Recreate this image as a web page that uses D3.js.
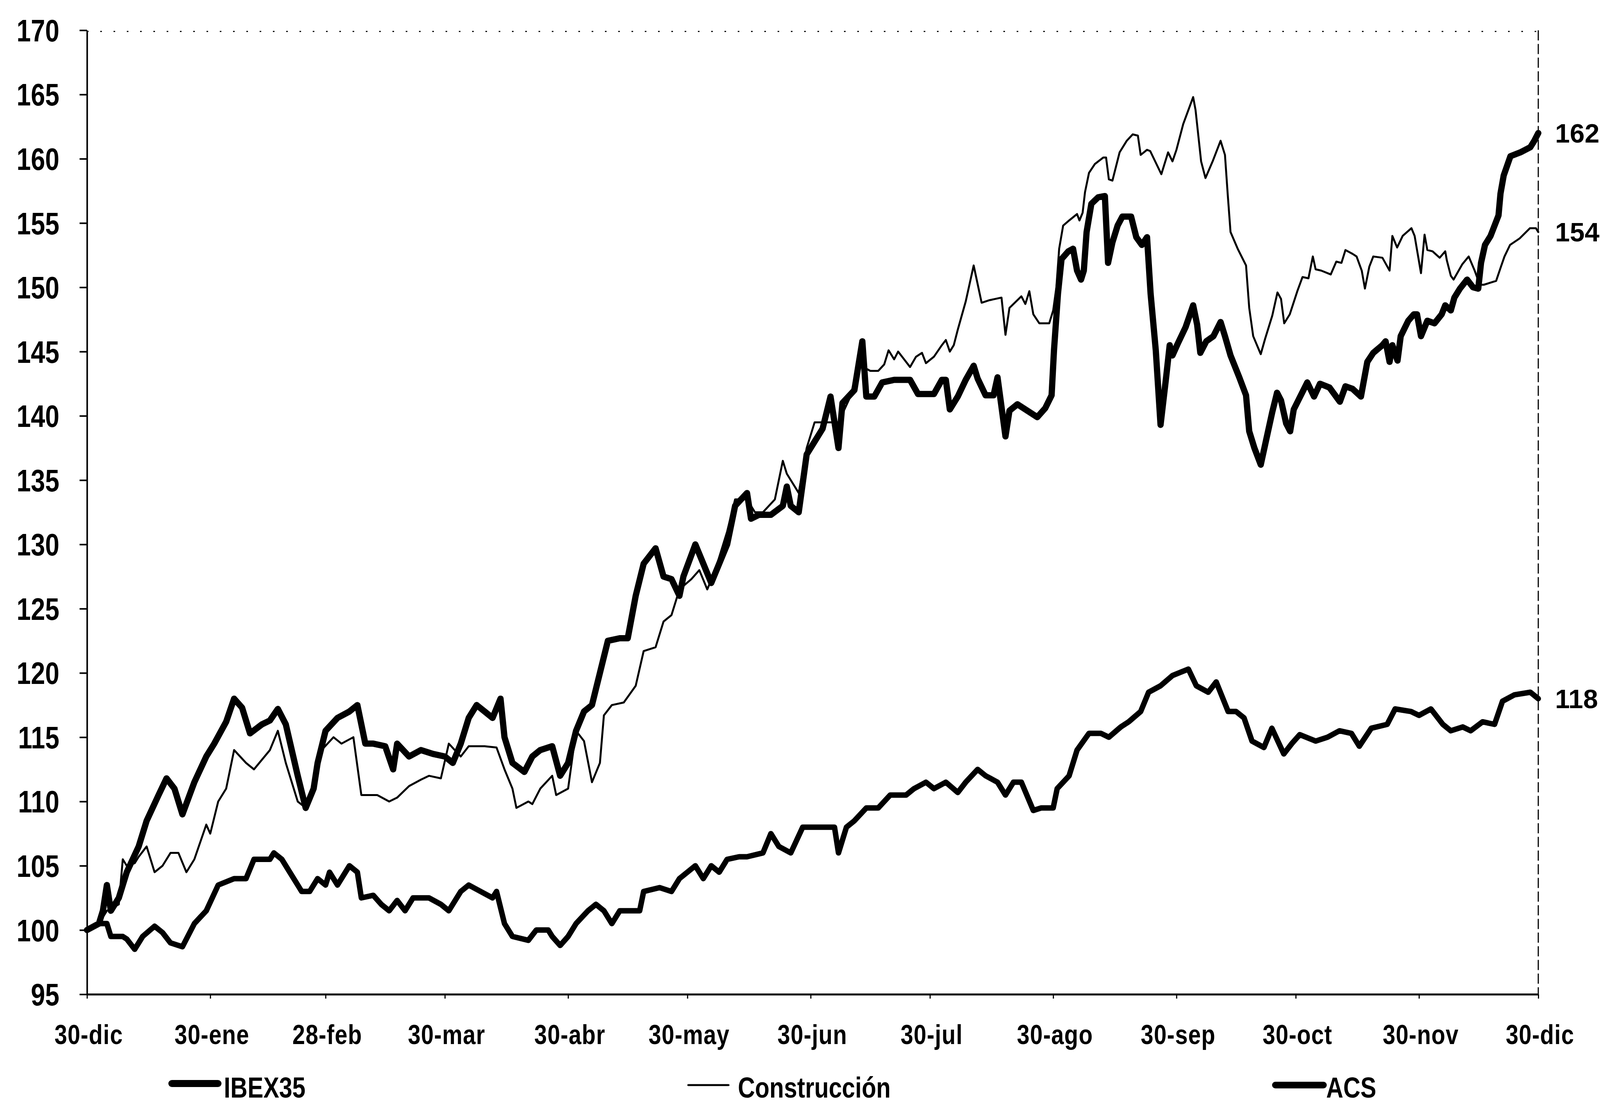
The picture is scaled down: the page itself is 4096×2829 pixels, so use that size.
<!DOCTYPE html>
<html><head><meta charset="utf-8">
<script src="https://cdn.jsdelivr.net/npm/d3@7"></script>
<style>html,body{margin:0;padding:0;background:#fff;overflow:hidden}svg{display:block}</style>
</head><body>
<svg id="chart" width="4096" height="2829"></svg>
<script>
// ---------- data ----------
const seriesNames = ["IBEX35", "Construcción", "ACS"];
const tickDates = ["2004-12-30","2005-01-30","2005-02-28","2005-03-30","2005-04-30","2005-05-30","2005-06-30","2005-07-30","2005-08-30","2005-09-30","2005-10-30","2005-11-30","2005-12-30"];
const tickLabels = ["30-dic","30-ene","28-feb","30-mar","30-abr","30-may","30-jun","30-jul","30-ago","30-sep","30-oct","30-nov","30-dic"];
const yTicks = [95,100,105,110,115,120,125,130,135,140,145,150,155,160,165,170];

// [days since 30-dic, index value]
const ibex = [[0,100],[3,100.5],[5,100.5],[6,99.5],[9,99.5],[10,99.3],[12,98.5],[14,99.5],[17,100.3],[19,99.8],
[21,99],[24,98.7],[27,100.5],[30,101.5],[33,103.5],[37,104],[40,104],[42,105.5],[46,105.5],[47,106],
[49,105.5],[51,104.5],[54,103],[56,103],[58,104],[60,103.5],[61,104.5],[63,103.5],[66,105],[68,104.5],
[69,102.5],[72,102.7],[74,102],[76,101.5],[78,102.3],[80,101.5],[82,102.5],[86,102.5],[89,102],[91,101.5],
[94,103],[96,103.5],[99,103],[102,102.5],[103,103],[105,100.5],[107,99.5],[111,99.2],[113,100],[116,100],
[117,99.5],[119,98.8],[121,99.5],[123,100.5],[126,101.5],[128,102],[130,101.5],[132,100.5],[134,101.5],[136,101.5],
[139,101.5],[140,103],[144,103.3],[147,103],[149,104],[153,105],[155,104],[157,105],[159,104.5],[161,105.5],
[164,105.7],[166,105.7],[170,106],[172,107.5],[174,106.5],[177,106],[180,108],[184,108],[188,108],[189,106],
[191,108],[193,108.5],[196,109.5],[199,109.5],[202,110.5],[206,110.5],[208,111],[211,111.5],[213,111],[216,111.5],
[219,110.7],[221,111.5],[224,112.5],[226,112],[229,111.5],[231,110.5],[233,111.5],[235,111.5],[238,109.3],[240,109.5],
[243,109.5],[244,111],[247,112],[249,114],[252,115.3],[255,115.3],[257,115],[260,115.8],[262,116.2],[265,117],
[267,118.5],[270,119],[273,119.8],[277,120.3],[279,119],[282,118.5],[284,119.3],[287,117],[289,117],[291,116.5],
[293,114.7],[296,114.2],[298,115.7],[301,113.7],[303,114.5],[305,115.2],[309,114.7],[312,115],[315,115.5],[318,115.3],
[320,114.3],[323,115.7],[327,116],[329,117.2],[333,117],[335,116.7],[338,117.2],[341,116],[343,115.5],[346,115.8],
[348,115.5],[351,116.2],[354,116],[356,117.8],[359,118.3],[363,118.5],[365,118]];

const construccion = [[0,100],[3,100.5],[5,101.5],[8,102],[9,105.5],[10,105],[12,105.2],[13,105.7],[15,106.5],[17,104.5],
[19,105],[21,106],[23,106],[25,104.5],[27,105.5],[30,108.2],[31,107.5],[33,110],[35,111],[37,114],
[40,113],[42,112.5],[46,114],[48,115.5],[50,113],[53,110],[55,109.5],[57,111],[59,114],[62,115],
[64,114.5],[67,115],[69,110.5],[73,110.5],[76,110],[78,110.3],[81,111.2],[84,111.7],[86,112],[89,111.8],
[91,114.5],[94,113.5],[96,114.3],[100,114.3],[103,114.2],[105,112.5],[107,111],[108,109.5],[111,110],[112,109.8],
[114,111],[117,112],[118,110.5],[121,111],[123,115.5],[125,114.7],[127,111.5],[129,113],[130,116.7],[132,117.5],
[135,117.7],[138,119],[140,121.7],[143,122],[145,124],[147,124.5],[149,126.5],[152,127.3],[154,128],[156,126.5],
[158,128],[161,131],[163,133.5],[166,133.5],[168,132.5],[170,132.5],[173,133.5],[175,136.5],[176,135.5],[179,134],
[181,137.5],[183,139.5],[186,139.5],[189,139.5],[192,141.5],[194,144],[197,143.5],[199,143.5],[200.5,144],[201.6,145.1],
[203,144.4],[204,145],[205,144.6],[207,143.8],[208.5,144.6],[210,144.9],[211,144.1],[213,144.6],[215,145.5],[216,145.9],
[217,145],[218,145.5],[219,146.7],[221,148.9],[222,150.3],[223,151.7],[225,148.8],[227,149],[230,149.2],[231,146.3],
[232,148.4],[235,149.3],[236,148.7],[237,149.7],[238,147.9],[239.5,147.2],[242,147.2],[243,148.2],[243.8,150],[244.5,153],
[245.5,154.8],[247,155.2],[249,155.7],[249.6,155.2],[250.4,155.8],[251,157.4],[252,158.9],[253.5,159.6],[255.6,160.1],[256.3,160.1],
[257,158.4],[257.9,158.3],[259.7,160.5],[261.5,161.4],[263,161.9],[264.3,161.8],[265,160.3],[266.6,160.7],[267.4,160.6],[270.2,158.8],
[271.9,160.5],[273,159.8],[274,160.7],[275.7,162.7],[278.2,164.8],[278.8,163.8],[280.2,159.8],[281.3,158.5],[283.1,159.8],[285.1,161.4],
[286.2,160.3],[286.9,157.2],[287.6,154.3],[289.4,153],[291.5,151.7],[292.3,148.4],[293.3,146.2],[295.2,144.8],[296.3,146],[298.1,147.8],
[299.4,149.6],[300.3,149.1],[301.1,147.2],[302.5,147.9],[304.4,149.7],[305.7,150.8],[307.2,150.7],[308.3,152.4],[309,151.4],[310.4,151.3],
[312.8,151],[314.2,152],[315.5,151.9],[316.5,152.9],[318.3,152.6],[319.3,152.4],[320.6,151.3],[321.4,149.9],[322.5,151.6],[323.5,152.4],
[325.8,152.3],[327.6,151.3],[328.3,154],[329.5,153.1],[330.9,154],[333.1,154.6],[333.9,154],[335.5,151.1],[336.4,154.1],[337.1,152.9],
[338.4,152.8],[340.2,152.3],[341.6,152.8],[342,152.1],[343,150.9],[343.7,150.6],[345.9,151.8],[347.5,152.4],[349,151.3],[350.3,150.2],
[351.3,150.2],[354.4,150.5],[355.6,151.6],[356.5,152.4],[357.9,153.3],[360.3,153.8],[362.9,154.6],[364.4,154.6],[365,154.3]];

const acs = [[0,100],[3,100.5],[4,101.5],[5,103.5],[6,101.5],[8,102.5],[10,104.5],[13,106.5],[15,108.5],[18,110.5],
[20,111.8],[22,111],[24,109],[27,111.5],[30,113.5],[32,114.5],[35,116.2],[37,118],[39,117.3],[41,115.3],
[44,116],[46,116.3],[48,117.2],[50,116],[53,112],[55,109.5],[57,111],[58,113],[60,115.5],[63,116.5],
[66,117],[68,117.5],[70,114.5],[72,114.5],[75,114.3],[77,112.5],[78,114.5],[81,113.5],[84,114],[87,113.7],
[90,113.5],[92,113],[94,114.5],[96,116.5],[98,117.5],[100,117],[102,116.5],[104,118],[105,115],[107,113],
[110,112.3],[112,113.5],[114,114],[117,114.3],[119,112],[121,113],[123,115.5],[125,117],[127,117.5],[129,120],
[131,122.5],[134,122.7],[136,122.7],[138,126],[140,128.5],[143,129.7],[145,127.5],[147,127.3],[149,126],[150,127.5],
[153,130],[155,128.5],[157,127],[159,128.5],[161,130],[163,133],[166,134],[167,132],[169,132.3],[172,132.3],
[175,133],[176,134.5],[177,133],[179,132.5],[181,137],[183,138],[185,139],[187,141.5],[189,137.5],[190,141],
[193,142],[195,145.8],[196,141.5],[198,141.5],[200,142.6],[203,142.8],[207,142.8],[209,141.7],[213,141.7],[215,142.8],
[216,142.8],[217,140.5],[219,141.5],[221,142.8],[223,143.9],[224,142.9],[226,141.6],[228,141.6],[229,143],[231,138.4],
[232,140.4],[234,140.9],[237,140.3],[239,139.9],[241,140.6],[242.6,141.6],[243.2,145.1],[244.2,149.5],[245.1,152.2],[246.8,152.8],
[248,153],[249,151.3],[250,150.6],[250.7,151.3],[251.4,154.3],[252.6,156.5],[254.3,157],[256,157.1],[256.8,151.9],[257.9,153.5],
[259.2,154.8],[260.4,155.5],[262.6,155.5],[263.9,153.9],[265.3,153.3],[266.6,153.9],[267.5,149.5],[268.8,145.1],[270,139.3],[271.4,143],
[272.3,145.5],[273,144.7],[274.3,145.6],[276.3,146.9],[278.2,148.6],[279.2,147.1],[280,144.9],[281.5,145.8],[283.3,146.2],[285.1,147.3],
[286.2,146.2],[287.6,144.7],[289.8,143],[291.5,141.6],[292.3,138.8],[293.6,137.5],[295.2,136.2],[296.4,137.9],[298.1,140.3],[299.3,141.8],
[300.3,141.2],[301.6,139.4],[302.6,138.8],[303.5,140.5],[306.9,142.6],[308.6,141.5],[310.1,142.5],[312.5,142.2],[315.1,141.1],[316.5,142.3],
[318.3,142.1],[320.4,141.5],[322,144.2],[323.5,144.9],[325.8,145.5],[326.6,145.8],[327.6,144.2],[328.3,145.5],[329.6,144.3],[330.4,146.2],
[332.3,147.4],[333.7,147.9],[334.5,147.9],[335.5,146.2],[337.1,147.4],[338.9,147.2],[340.7,147.9],[341.6,148.6],[343,148.2],[343.9,149.2],
[345.3,149.9],[347.1,150.6],[348.6,150],[349.9,149.9],[350.6,151.9],[351.6,153.3],[353,154],[355,155.6],[355.5,157.3],[356.3,158.7],
[358,160.2],[360.5,160.5],[363,160.9],[364,161.4],[365,162]];

// ---------- layout ----------
const X0 = 222.7, X1 = 3938, Y0 = 77.4, Y1 = 2545.6;
const FONT = "'Liberation Sans', Arial, sans-serif";
const NARROW = 0.82;
const svg = d3.select("#chart");
svg.append("rect").attr("width", 4096).attr("height", 2829).attr("fill", "#fff");

const base = Date.UTC(2004, 11, 30);
const toDate = d => new Date(base + d * 864e5);
const parse = s => { const [a,b,c] = s.split("-").map(Number); return new Date(Date.UTC(a, b - 1, c)); };
const tickDateObjs = tickDates.map(parse);

const x = d3.scaleUtc().domain([tickDateObjs[0], tickDateObjs[tickDateObjs.length - 1]]).range([X0, X1]);
const y = d3.scaleLinear().domain([95, 170]).range([Y1, Y0]);

// frame: sparse dotted top, dashed right
svg.append("line").attr("x1", X0).attr("x2", X1).attr("y1", Y0 + 3).attr("y2", Y0 + 3)
  .attr("stroke", "#000").attr("stroke-width", 3).attr("stroke-dasharray", "4,30");
svg.append("line").attr("x1", X1).attr("x2", X1).attr("y1", Y0).attr("y2", Y1)
  .attr("stroke", "#000").attr("stroke-width", 3).attr("stroke-dasharray", "26,9");

// series lines
const line = d3.line().x(d => x(toDate(d[0]))).y(d => y(d[1])).curve(d3.curveLinear);
const styles = [
  {data: construccion, w: 5},
  {data: ibex, w: 14},
  {data: acs, w: 16}
];
styles.forEach(s => {
  svg.append("path").datum(s.data).attr("d", line)
    .attr("fill", "none").attr("stroke", "#000").attr("stroke-width", s.w)
    .attr("stroke-linejoin", "round").attr("stroke-linecap", "round");
});

// y axis
const yAxis = svg.append("g").attr("transform", `translate(${X0},0)`)
  .call(d3.axisLeft(y).tickValues(yTicks).tickSize(19).tickSizeOuter(0).tickFormat(d3.format("d")));
yAxis.select(".domain").attr("stroke-width", 4);
yAxis.selectAll(".tick line").attr("stroke-width", 4);
yAxis.selectAll(".tick text")
  .attr("x", null).attr("dy", null)
  .attr("transform", `translate(${152 - X0},28) scale(${NARROW},1)`)
  .attr("text-anchor", "end")
  .style("font-family", FONT).style("font-weight", "bold").style("font-size", "80px").attr("fill", "#000");

// x axis
const xAxis = svg.append("g").attr("transform", `translate(0,${Y1})`)
  .call(d3.axisBottom(x).tickValues(tickDateObjs).tickSize(11).tickSizeOuter(0)
    .tickFormat((d, i) => tickLabels[i]));
xAxis.select(".domain").attr("stroke-width", 5);
xAxis.selectAll(".tick line").attr("stroke-width", 3);
xAxis.selectAll(".tick text")
  .attr("y", null).attr("dy", null)
  .attr("transform", `translate(4,127) scale(${NARROW},1)`)
  .attr("text-anchor", "middle")
  .style("font-family", FONT).style("font-weight", "bold").style("font-size", "71px")
  .style("letter-spacing", "1.5px").attr("fill", "#000");

// end value labels
const fmt = d3.format(".0f");
[acs, construccion, ibex].forEach(s => {
  const last = s[s.length - 1];
  svg.append("text").attr("x", 3981).attr("y", y(last[1]) + 24)
    .style("font-family", FONT).style("font-weight", "bold").style("font-size", "68px")
    .attr("fill", "#000").text(fmt(last[1]));
});

// legend
const legendBaseline = 2810;
const legend = [
  {name: seriesNames[0], x1: 440, x2: 558, ly: 2774, w: 18, tx: 573},
  {name: seriesNames[1], x1: 1762, x2: 1865, ly: 2778, w: 5, tx: 1889},
  {name: seriesNames[2], x1: 3265, x2: 3388, ly: 2778, w: 17, tx: 3395}
];
legend.forEach(l => {
  svg.append("line").attr("x1", l.x1).attr("x2", l.x2).attr("y1", l.ly).attr("y2", l.ly)
    .attr("stroke", "#000").attr("stroke-width", l.w).attr("stroke-linecap", "round");
  svg.append("text").attr("transform", `translate(${l.tx},${legendBaseline}) scale(${NARROW},1)`)
    .style("font-family", FONT).style("font-weight", "bold").style("font-size", "74px")
    .attr("fill", "#000").text(l.name);
});
</script>
</body></html>
